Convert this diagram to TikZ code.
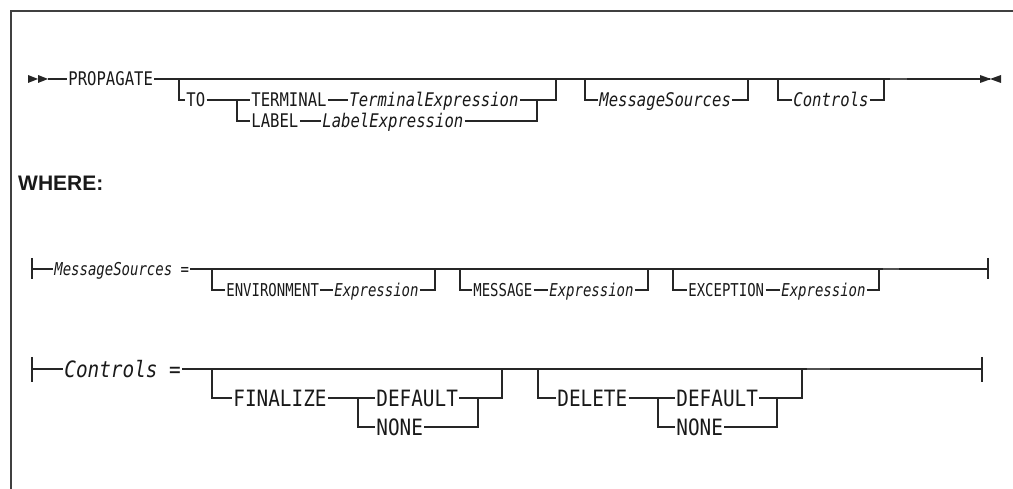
\documentclass[tikz,border=0pt]{standalone}
\usepackage{fontspec}
\newfontfamily\fA[FakeStretch=0.83]{DejaVu Sans Mono}
\newfontfamily\fB[FakeStretch=0.79]{DejaVu Sans Mono}
\newfontfamily\fC[FakeStretch=0.86]{DejaVu Sans Mono}
\newfontfamily\fW{Liberation Sans}
\begin{document}
\begin{tikzpicture}[x=1pt,y=-1pt,
  ln/.style={line width=1.3pt, draw=black!85},
  gy/.style={line width=2.2pt, draw=black!68},
  frm/.style={line width=2pt, draw=black!75},
  tri/.style={fill=black!85, draw=none},
  base/.style={anchor=west, inner xsep=1.2pt, inner ysep=0pt, text depth=0pt, text=black!90},
  kA/.style={base, text height=13.7pt, font=\fA\fontsize{18.8pt}{20pt}\selectfont},
  vA/.style={base, text height=13.7pt, font=\fA\itshape\fontsize{18.8pt}{20pt}\selectfont},
  kB/.style={base, text height=12.9pt, font=\fB\fontsize{17.7pt}{19pt}\selectfont},
  vB/.style={base, text height=12.9pt, font=\fB\itshape\fontsize{17.7pt}{19pt}\selectfont},
  kC/.style={base, text height=16.4pt, font=\fC\fontsize{22.5pt}{24pt}\selectfont},
  vC/.style={base, text height=16.4pt, font=\fC\itshape\fontsize{22.5pt}{24pt}\selectfont}
]
\useasboundingbox (0,0) rectangle (1013,489);
% frame
\coordinate (fa) at (11,489);
\coordinate (fb) at (11,11);
\coordinate (fc) at (1013,11);
\draw[frm] (fa) -- (fb) -- (fc);

% ===== main diagram =====
\fill[tri] (28,75) -- (38,79) -- (28,83) -- cycle;
\fill[tri] (38,75) -- (48,79) -- (38,83) -- cycle;
\coordinate (s0) at (48,79);
\node[kA] (prop) at (67,79) {PROPAGATE};
\node[kA] (to) at (185,100) {TO};
\node[kA] (term) at (250,100) {TERMINAL};
\node[vA] (texp) at (348,100) {TerminalExpression};
\node[kA] (lab) at (250,121) {LABEL};
\node[vA] (lexp) at (321,121) {LabelExpression};
\node[vA] (ms) at (598,100) {MessageSources};
\node[vA] (ct) at (792,100) {Controls};
\coordinate (j1) at (179,79);
\coordinate (j2) at (237,100);
\coordinate (j3) at (537,100);
\coordinate (j4) at (556,79);
\coordinate (j5) at (585,79);
\coordinate (j6) at (748,79);
\coordinate (j7) at (778,79);
\coordinate (j8) at (884,79);
\coordinate (g1) at (890,79);
\coordinate (g2) at (907,79);
\coordinate (e0) at (990,79);
\draw[ln] (s0) -- (prop.west);
\draw[ln] (prop.east) -- (e0);
\draw[ln] (j1) |- (to.west);
\draw[ln] (to.east) -- (term.west);
\draw[ln] (j2) |- (lab.west);
\draw[ln] (term.east) -- (texp.west);
\draw[ln] (lab.east) -- (lexp.west);
\draw[ln] (texp.east) -| (j4);
\draw[ln] (lexp.east) -| (j3);
\draw[ln] (j5) |- (ms.west);
\draw[ln] (ms.east) -| (j6);
\draw[ln] (j7) |- (ct.west);
\draw[ln] (ct.east) -| (j8);
\draw[gy] (g1) -- (g2);
\fill[tri] (980,75) -- (991,79) -- (980,83) -- cycle;
\fill[tri] (1001,75) -- (990,79) -- (1001,83) -- cycle;

% ===== WHERE =====
\node[anchor=base west, inner sep=0pt, text=black!90,
  font=\fW\bfseries\fontsize{21pt}{24pt}\selectfont] (where) at (18,191) {WHERE:};

% ===== MessageSources =====
\coordinate (t1a) at (32,258);
\coordinate (t1b) at (32,279);
\coordinate (t1) at (32,269);
\draw[ln] (t1a) -- (t1b);
\node[vB] (msl) at (53,269) {MessageSources =};
\node[kB] (env) at (225,290) {ENVIRONMENT};
\node[vB] (ex1) at (333,290) {Expression};
\node[kB] (msg) at (472,290) {MESSAGE};
\node[vB] (ex2) at (548,290) {Expression};
\node[kB] (exc) at (687,290) {EXCEPTION};
\node[vB] (ex3) at (780,290) {Expression};
\coordinate (m1) at (212,269);
\coordinate (m2) at (435,269);
\coordinate (m3) at (460,269);
\coordinate (m4) at (648,269);
\coordinate (m5) at (673,269);
\coordinate (m6) at (879,269);
\coordinate (mg1) at (883,269);
\coordinate (mg2) at (899,269);
\coordinate (me) at (988,269);
\coordinate (mea) at (988,258);
\coordinate (meb) at (988,279);
\draw[ln] (t1) -- (msl.west);
\draw[ln] (msl.east) -- (me);
\draw[ln] (mea) -- (meb);
\draw[ln] (m1) |- (env.west);
\draw[ln] (env.east) -- (ex1.west);
\draw[ln] (ex1.east) -| (m2);
\draw[ln] (m3) |- (msg.west);
\draw[ln] (msg.east) -- (ex2.west);
\draw[ln] (ex2.east) -| (m4);
\draw[ln] (m5) |- (exc.west);
\draw[ln] (exc.east) -- (ex3.west);
\draw[ln] (ex3.east) -| (m6);
\draw[gy] (mg1) -- (mg2);

% ===== Controls =====
\coordinate (t2a) at (32,357);
\coordinate (t2b) at (32,382);
\coordinate (t2) at (32,369);
\draw[ln] (t2a) -- (t2b);
\node[vC] (ctl) at (63,369) {Controls =};
\node[kC] (fin) at (232,398) {FINALIZE};
\node[kC] (def1) at (375,398) {DEFAULT};
\node[kC] (non1) at (375,427) {NONE};
\node[kC] (del) at (556,398) {DELETE};
\node[kC] (def2) at (675,398) {DEFAULT};
\node[kC] (non2) at (675,427) {NONE};
\coordinate (c1) at (212,369);
\coordinate (c2) at (358,398);
\coordinate (c3) at (478,398);
\coordinate (c4) at (502,369);
\coordinate (c5) at (538,369);
\coordinate (c6) at (658,398);
\coordinate (c7) at (777,398);
\coordinate (c8) at (802,369);
\coordinate (cg1) at (807,369);
\coordinate (cg2) at (830,369);
\coordinate (ce) at (982,369);
\coordinate (cea) at (982,357);
\coordinate (ceb) at (982,382);
\draw[ln] (t2) -- (ctl.west);
\draw[ln] (ctl.east) -- (ce);
\draw[ln] (cea) -- (ceb);
\draw[ln] (c1) |- (fin.west);
\draw[ln] (fin.east) -- (def1.west);
\draw[ln] (c2) |- (non1.west);
\draw[ln] (def1.east) -| (c4);
\draw[ln] (non1.east) -| (c3);
\draw[ln] (c5) |- (del.west);
\draw[ln] (del.east) -- (def2.west);
\draw[ln] (c6) |- (non2.west);
\draw[ln] (def2.east) -| (c8);
\draw[ln] (non2.east) -| (c7);
\draw[gy] (cg1) -- (cg2);
\end{tikzpicture}
\end{document}
